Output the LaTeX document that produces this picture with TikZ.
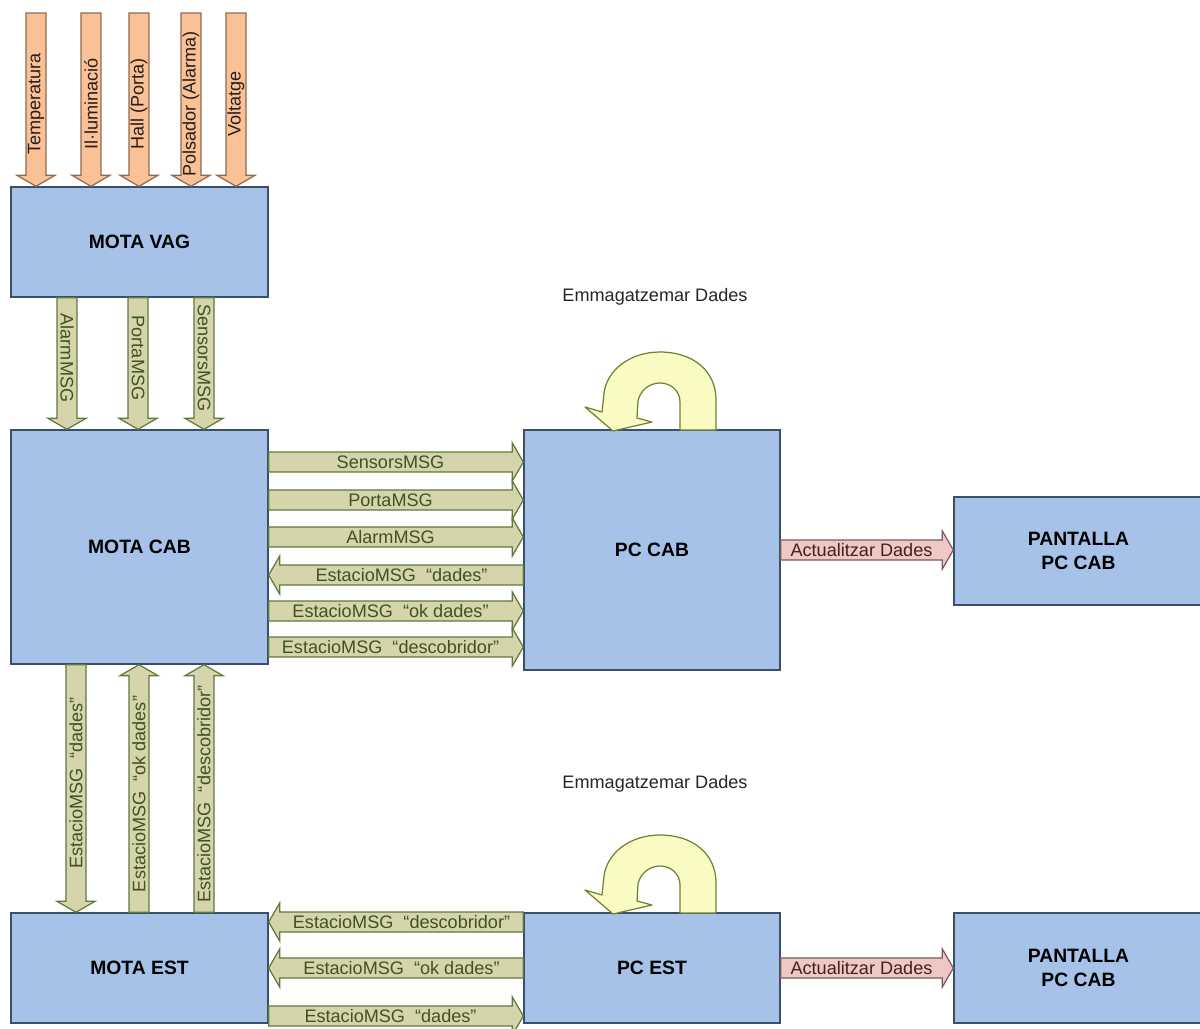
\documentclass[tikz,border=0pt]{standalone}
\usepackage{fontspec}
\setmainfont{Liberation Sans}
\usetikzlibrary{calc}
\definecolor{boxfill}{RGB}{167,194,232}
\definecolor{boxline}{RGB}{58,80,104}
\definecolor{grfill}{RGB}{214,212,170}
\definecolor{grline}{RGB}{94,122,58}
\definecolor{grtext}{RGB}{63,82,34}
\definecolor{orfill}{RGB}{250,192,150}
\definecolor{orline}{RGB}{140,106,80}
\definecolor{ortext}{RGB}{40,30,25}
\definecolor{pkfill}{RGB}{240,200,195}
\definecolor{pkline}{RGB}{122,90,90}
\definecolor{pktext}{RGB}{64,32,32}
\definecolor{yefill}{RGB}{250,250,195}
\definecolor{yeline}{RGB}{110,130,50}
% #1 arrow style, #2 label style, #3 from, #4 to, #5 label rotation, #6 text
\newcommand\blockarr[6]{%
  \coordinate (bah) at ($(#4)!0.22cm!(#3)$);
  \draw[#1] ($(#3)!0.2cm!90:(#4)$) -- ($(bah)!0.2cm!-90:(#3)$) -- ($(bah)!0.38cm!-90:(#3)$) -- (#4)
     -- ($(bah)!0.38cm!90:(#3)$) -- ($(bah)!0.2cm!90:(#3)$) -- ($(#3)!0.2cm!-90:(#4)$) -- cycle;
  \path (#3) -- (bah) node[midway, rotate=#5, #2] {#6};
}
\begin{document}
\begin{tikzpicture}[x=0.02cm, y=-0.02cm,
  box/.style={draw=boxline, fill=boxfill, line width=0.8pt, align=center, inner sep=0pt,
    font=\bfseries\fontsize{11pt}{14pt}\selectfont},
  grarr/.style={draw=grline, fill=grfill, line width=0.7pt, line join=miter},
  orarr/.style={draw=orline, fill=orfill, line width=0.7pt},
  pkarr/.style={draw=pkline, fill=pkfill, line width=0.7pt},
  glbl/.style={text=grtext, inner sep=0pt, font=\fontsize{10.3pt}{12pt}\selectfont},
  olbl/.style={text=ortext, inner sep=0pt, font=\fontsize{10.3pt}{12pt}\selectfont, pos=0.56},
  plbl/.style={text=pktext, inner sep=0pt, font=\fontsize{10.3pt}{12pt}\selectfont},
  uturn/.style={draw=yeline, fill=yefill, line width=0.7pt, line join=round},
  note/.style={text=black!85, font=\fontsize{10.3pt}{12pt}\selectfont}]
\useasboundingbox (0,0) rectangle (1200,1028);

% boxes
\node[box, minimum width=5.14cm, minimum height=2.2cm] (vag) at (139.5,242) {MOTA VAG};
\node[box, minimum width=5.14cm, minimum height=4.68cm] (cab) at (139.5,547) {MOTA CAB};
\node[box, minimum width=5.12cm, minimum height=4.8cm] (pccab) at (652,550) {PC CAB};
\node[box, minimum width=4.98cm, minimum height=2.16cm] (pant1) at (1078.5,551) {PANTALLA\\PC CAB};
\node[box, minimum width=5.14cm, minimum height=2.2cm] (est) at (139.5,968) {MOTA EST};
\node[box, minimum width=5.12cm, minimum height=2.2cm] (pcest) at (652,968) {PC EST};
\node[box, minimum width=4.98cm, minimum height=2.2cm] (pant2) at (1078.5,968) {PANTALLA\\PC CAB};

% sensor inputs
\coordinate (t1) at (36,13);
\coordinate (t2) at (91,13);
\coordinate (t3) at (139,13);
\coordinate (t4) at (191,13);
\coordinate (t5) at (236,13);
\blockarr{orarr}{olbl}{t1}{t1 |- vag.north}{90}{Temperatura}
\blockarr{orarr}{olbl}{t2}{t2 |- vag.north}{90}{Il·luminació}
\blockarr{orarr}{olbl}{t3}{t3 |- vag.north}{90}{Hall (Porta)}
\blockarr{orarr}{olbl}{t4}{t4 |- vag.north}{90}{Polsador (Alarma)}
\blockarr{orarr}{olbl}{t5}{t5 |- vag.north}{90}{Voltatge}

% VAG -> CAB
\coordinate (c1) at (67,0);
\coordinate (c2) at (138,0);
\coordinate (c3) at (204,0);
\blockarr{grarr}{glbl}{c1 |- vag.south}{c1 |- cab.north}{-90}{AlarmMSG}
\blockarr{grarr}{glbl}{c2 |- vag.south}{c2 |- cab.north}{-90}{PortaMSG}
\blockarr{grarr}{glbl}{c3 |- vag.south}{c3 |- cab.north}{-90}{SensorsMSG}

% CAB <-> PC CAB
\coordinate (r1) at (0,462);
\coordinate (r2) at (0,500);
\coordinate (r3) at (0,537);
\coordinate (r4) at (0,575);
\coordinate (r5) at (0,611);
\coordinate (r6) at (0,647);
\blockarr{grarr}{glbl}{cab.east |- r1}{pccab.west |- r1}{0}{SensorsMSG}
\blockarr{grarr}{glbl}{cab.east |- r2}{pccab.west |- r2}{0}{PortaMSG}
\blockarr{grarr}{glbl}{cab.east |- r3}{pccab.west |- r3}{0}{AlarmMSG}
\blockarr{grarr}{glbl}{pccab.west |- r4}{cab.east |- r4}{0}{EstacioMSG\ \ “dades”}
\blockarr{grarr}{glbl}{cab.east |- r5}{pccab.west |- r5}{0}{EstacioMSG\ \ “ok dades”}
\blockarr{grarr}{glbl}{cab.east |- r6}{pccab.west |- r6}{0}{EstacioMSG\ \ “descobridor”}

% CAB <-> EST
\coordinate (d1) at (76,0);
\coordinate (d2) at (139,0);
\coordinate (d3) at (204,0);
\blockarr{grarr}{glbl}{d1 |- cab.south}{d1 |- est.north}{90}{EstacioMSG\ \ “dades”}
\blockarr{grarr}{glbl}{d2 |- est.north}{d2 |- cab.south}{90}{EstacioMSG\ \ “ok dades”}
\blockarr{grarr}{glbl}{d3 |- est.north}{d3 |- cab.south}{90}{EstacioMSG\ \ “descobridor”}

% EST <-> PC EST
\coordinate (b1) at (0,922);
\coordinate (b2) at (0,968);
\coordinate (b3) at (0,1016);
\blockarr{grarr}{glbl}{pcest.west |- b1}{est.east |- b1}{0}{EstacioMSG\ \ “descobridor”}
\blockarr{grarr}{glbl}{pcest.west |- b2}{est.east |- b2}{0}{EstacioMSG\ \ “ok dades”}
\blockarr{grarr}{glbl}{est.east |- b3}{pcest.west |- b3}{0}{EstacioMSG\ \ “dades”}

% PC -> PANTALLA
\coordinate (p1) at (0,550);
\coordinate (p2) at (0,968);
\blockarr{pkarr}{plbl}{pccab.east |- p1}{pant1.west |- p1}{0}{Actualitzar Dades}
\blockarr{pkarr}{plbl}{pcest.east |- p2}{pant2.west |- p2}{0}{Actualitzar Dades}

% store loops
\foreach \dy in {0,483}{
\begin{scope}[shift={(0,\dy)}]
\draw[uturn] (716,430) -- (716,400) .. controls (716,370) and (692,352) .. (660,352)
  .. controls (630,352) and (607,370) .. (604,393) -- (602,412) -- (585,407) -- (613,431)
  -- (652,422) -- (637,418) -- (638,401) .. controls (640,391) and (649,383) .. (660,383)
  .. controls (671,383) and (680,391) .. (680,402) -- (680,430) -- cycle;
\end{scope}}
\node[note] (em1) at (655,297) {Emmagatzemar Dades};
\node[note] (em2) at (655,784) {Emmagatzemar Dades};
\end{tikzpicture}
\end{document}
